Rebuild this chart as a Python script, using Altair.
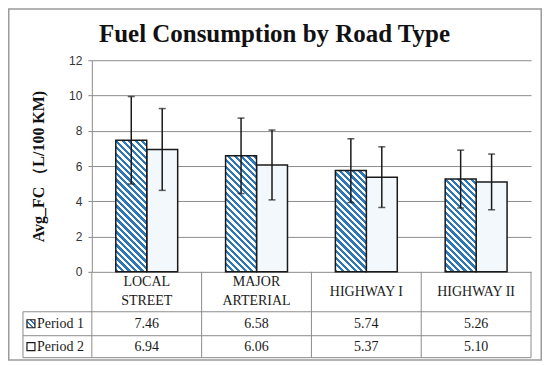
import math
import altair as alt
import pandas as pd

# ---------------- data ----------------
categories = ["LOCAL STREET", "MAJOR ARTERIAL", "HIGHWAY I", "HIGHWAY II"]
header_labels = ["LOCAL\nSTREET", "MAJOR\nARTERIAL", "HIGHWAY I", "HIGHWAY II"]
periods = ["Period 1", "Period 2"]
period1_values = [7.46, 6.58, 5.74, 5.26]
period2_values = [6.94, 6.06, 5.37, 5.10]
period1_errors = [2.48, 2.14, 1.81, 1.64]
period2_errors = [2.32, 1.98, 1.72, 1.58]
y_ticks = [0, 2, 4, 6, 8, 10, 12]
title_text = "Fuel Consumption  by Road Type"
y_title = "Avg_FC （L/100 KM)"

# ---------------- layout / style ----------------
W, H = 440, 212
Y_MAX = 12
BLUE = "#2f77b7"
LIGHT = "#f3f8fc"
DARK = "#1a1a1a"
GRID = "#8c8c8c"
SERIF = "Liberation Serif"
ROW_HEADER = 232
ROW_P1 = 264
ROW_P2 = 287
TABLE_LEFT = -69
LINE_H = 19

rows = []
for p, vals, errs in [(periods[0], period1_values, period1_errors),
                      (periods[1], period2_values, period2_errors)]:
    for c, lab, v, e in zip(categories, header_labels, vals, errs):
        rows.append({"cat": c, "label": lab, "nlines": lab.count("\n") + 1,
                     "period": p, "value": v, "err": e, "txt": f"{v:.2f}"})
df = pd.DataFrame(rows)
one = pd.DataFrame({"k": [0]})
title_df = pd.DataFrame({"t": [title_text]})


def stripe_gradient(w, h, period=6.5, frac=0.5, c1=BLUE, c2="white"):
    span = w + h
    k = span / (w * w + h * h)
    stops = []
    i = 0
    while i * period / span < 1:
        o0 = min(i * period / span, 1)
        o1 = min((i + frac) * period / span, 1)
        o2 = min((i + 1) * period / span, 1)
        stops += [alt.GradientStop(color=c1, offset=o0),
                  alt.GradientStop(color=c1, offset=o1),
                  alt.GradientStop(color=c2, offset=o1),
                  alt.GradientStop(color=c2, offset=o2)]
        i += 1
    return alt.LinearGradient(gradient="linear", stops=stops,
                              x1=0, y1=1, x2=k * w, y2=1 - k * h)


xscale = alt.Scale(domain=categories, paddingInner=0, paddingOuter=0)
x_enc = alt.X("cat:N", scale=xscale, axis=None)
xo_enc = alt.XOffset("period:N", scale=alt.Scale(domain=periods, paddingInner=0, paddingOuter=0.774))
yscale = alt.Scale(domain=[0, Y_MAX], nice=False, zero=True)
yaxis = alt.Axis(values=y_ticks, grid=True, gridColor=GRID, gridWidth=1,
                 domain=True, domainColor=GRID, domainWidth=1,
                 ticks=True, tickColor=GRID, tickSize=4,
                 labelFont="Liberation Sans", labelFontSize=12, labelColor="#333333",
                 labelPadding=6, title=y_title, titleFont=SERIF, titleFontSize=16,
                 titleFontWeight="bold", titleColor="#111111", titleX=-53, titleY=H / 2,
                 titleAngle=270, titleAlign="center", titleBaseline="middle")

base = alt.Chart(df)
layers = []

# Period 2 bars (light dotted look)
layers.append(base.transform_filter("datum.period === 'Period 2'")
              .mark_bar(fill=LIGHT, stroke=DARK, strokeWidth=1.5)
              .encode(x=x_enc, xOffset=xo_enc, y=alt.Y("value:Q", scale=yscale, axis=yaxis)))

# Period 1 bars, diagonal stripes (gradient matched to each bar's size)
bar_w = W / len(categories) / (2 + 2 * 0.774)
for c, v in zip(categories, period1_values):
    h = v / Y_MAX * H
    layers.append(base.transform_filter(f"datum.period === 'Period 1' && datum.cat === '{c}'")
                  .mark_bar(fill=stripe_gradient(bar_w, h), stroke=DARK, strokeWidth=1.5)
                  .encode(x=x_enc, xOffset=xo_enc, y=alt.Y("value:Q", scale=yscale, axis=yaxis)))

# Error bars
err = base.transform_calculate(lo="datum.value - datum.err", hi="datum.value + datum.err")
layers.append(err.mark_rule(color=DARK, strokeWidth=1.5)
              .encode(x=x_enc, xOffset=xo_enc,
                      y=alt.Y("lo:Q", scale=yscale, axis=yaxis), y2="hi:Q"))
for f in ["lo", "hi"]:
    layers.append(err.mark_tick(color=DARK, thickness=1.5, size=7)
                  .encode(x=x_enc, xOffset=xo_enc, y=alt.Y(f"{f}:Q", scale=yscale, axis=yaxis)))

# ---------------- data table under the plot ----------------
line_style = dict(color=GRID, strokeWidth=1)
layers.append(base.transform_filter("datum.period === 'Period 1'")
              .mark_rule(**line_style)
              .encode(x=alt.X("cat:N", scale=xscale, axis=None, bandPosition=0),
                      y=alt.value(H), y2=alt.value(298)))
layers.append(base.transform_filter("datum.period === 'Period 1' && datum.cat === 'HIGHWAY II'")
              .mark_rule(**line_style)
              .encode(x=alt.X("cat:N", scale=xscale, axis=None, bandPosition=1),
                      y=alt.value(H), y2=alt.value(298)))
layers.append(alt.Chart(one).mark_rule(**line_style)
              .encode(x=alt.value(TABLE_LEFT), y=alt.value(252), y2=alt.value(298)))
for yy in [252, 276, 298]:
    layers.append(alt.Chart(one).mark_rule(**line_style)
                  .encode(x=alt.value(TABLE_LEFT), x2=alt.value(W), y=alt.value(yy)))

txt_style = dict(font=SERIF, fontSize=14, color="#1a1a1a", baseline="middle")
layers.append(base.transform_filter("datum.period === 'Period 1' && datum.nlines > 1")
              .mark_text(lineBreak="\n", lineHeight=LINE_H, **txt_style)
              .encode(x=x_enc, y=alt.value(ROW_HEADER - LINE_H / 2), text="label:N"))
layers.append(base.transform_filter("datum.period === 'Period 1' && datum.nlines === 1")
              .mark_text(**txt_style)
              .encode(x=x_enc, y=alt.value(ROW_HEADER), text="label:N"))
for p, ry in [("Period 1", ROW_P1), ("Period 2", ROW_P2)]:
    layers.append(base.transform_filter(f"datum.period === '{p}'")
                  .mark_text(**txt_style)
                  .encode(x=x_enc, y=alt.value(ry), text="txt:N"))
    layers.append(base.transform_filter(f"datum.period === '{p}' && datum.cat === 'LOCAL STREET'")
                  .mark_text(align="left", **txt_style)
                  .encode(x=alt.value(-55), y=alt.value(ry), text="period:N"))

# legend swatches
layers.append(alt.Chart(one).mark_rect(fill=stripe_gradient(8, 8, period=5), stroke=DARK, strokeWidth=1.2)
              .encode(x=alt.value(-65), x2=alt.value(-57), y=alt.value(ROW_P1 - 4), y2=alt.value(ROW_P1 + 4)))
layers.append(alt.Chart(one).mark_rect(fill="white", stroke=DARK, strokeWidth=1.2)
              .encode(x=alt.value(-65), x2=alt.value(-57), y=alt.value(ROW_P2 - 4), y2=alt.value(ROW_P2 + 4)))

# chart title
layers.append(alt.Chart(title_df).mark_text(font=SERIF, fontSize=25, fontWeight="bold", color="#111111",
                                            align="center", baseline="alphabetic")
              .encode(x=alt.value(183), y=alt.value(-18), text="t:N"))

# outer frame
layers.append(alt.Chart(one).mark_rect(fillOpacity=0, stroke="#9a9a9a", strokeWidth=1.5)
              .encode(x=alt.value(-83.25), x2=alt.value(W + 10.25),
                      y=alt.value(-51.25), y2=alt.value(H + 88.25)))

chart = alt.layer(*layers).properties(
    width=W, height=H,
    padding={"left": 84, "top": 52, "right": 11, "bottom": 89},
    autosize=alt.AutoSizeParams(type="none"),
).configure_view(stroke=None)

chart.save("out.html", embed_options={"renderer": "svg", "actions": False})
